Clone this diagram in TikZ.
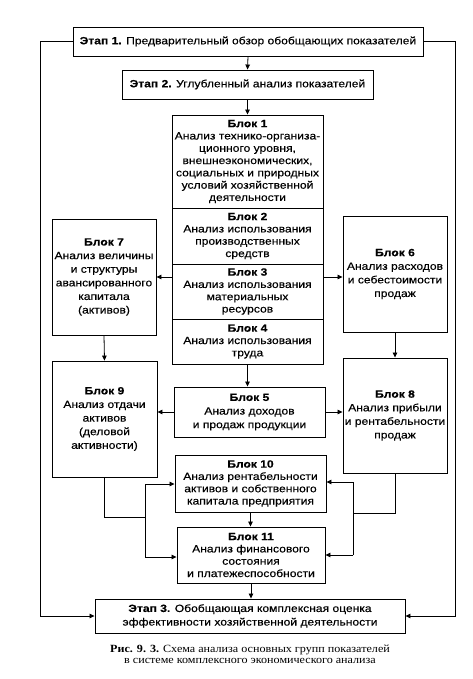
\documentclass[tikz,border=0pt]{standalone}
\usepackage{fontspec}
\usetikzlibrary{arrows.meta,calc}
\newfontfamily\boxfont[FakeStretch=1.15,FakeBold=0.3]{Liberation Sans}
\newfontfamily\capfont[FakeStretch=1.1]{Liberation Serif}
\tikzset{
  box/.style={draw, line width=0.9pt, align=center, inner sep=1pt,
    font=\boxfont\fontsize{10.5}{12.3}\selectfont},
  sidebox/.style={box, font=\boxfont\fontsize{10.5}{13.6}\selectfont},
  arr/.style={-{Triangle[length=5pt,width=4.5pt]}, line width=0.8pt},
  ln/.style={line width=0.8pt}
}
\begin{document}
\begin{tikzpicture}[x=1pt,y=-1pt]
\fill[white] (0,0) rectangle (472,679);
\useasboundingbox (0,0) rectangle (472,679);

\node[box, minimum width=350, minimum height=29] (e1) at (248,41.5)
  {\textbf{Этап 1.} Предварительный обзор обобщающих показателей};
\node[box, minimum width=251, minimum height=29] (e2) at (247.5,84.5)
  {\textbf{Этап 2.} Углубленный анализ показателей};

\node[box, minimum width=151, minimum height=93] (b1) at (247.5,161.5)
  {\textbf{Блок 1}\\Анализ технико-организа-\\ционного уровня,\\внешнеэкономических,\\социальных и природных\\условий хозяйственной\\деятельности};
\node[box, minimum width=151, minimum height=56] (b2) at (247.5,236)
  {\textbf{Блок 2}\\Анализ использования\\производственных\\средств};
\node[box, minimum width=151, minimum height=55] (b3) at (247.5,291.5)
  {\textbf{Блок 3}\\Анализ использования\\материальных\\ресурсов};
\node[box, minimum width=151, minimum height=45] (b4) at (247.5,341.5)
  {\textbf{Блок 4}\\Анализ использования\\труда};
\node[sidebox, minimum width=151, minimum height=50] (b5) at (249.5,412)
  {\textbf{Блок 5}\\Анализ доходов\\и продаж продукции};

\node[sidebox, minimum width=104, minimum height=116] (b7) at (104,277)
  {\textbf{Блок 7}\\Анализ величины\\и структуры\\авансированного\\капитала\\(активов)};
\node[sidebox, minimum width=104, minimum height=116] (b6) at (395,274)
  {\textbf{Блок 6}\\Анализ расходов\\и себестоимости\\продаж};
\node[sidebox, minimum width=105, minimum height=116] (b9) at (104.5,419)
  {\textbf{Блок 9}\\Анализ отдачи\\активов\\(деловой\\активности)};
\node[sidebox, minimum width=104, minimum height=115] (b8) at (395,415.5)
  {\textbf{Блок 8}\\Анализ прибыли\\и рентабельности\\продаж};

\node[box, minimum width=151, minimum height=57] (b10) at (250.5,483.5)
  {\textbf{Блок 10}\\Анализ рентабельности\\активов и собственного\\капитала предприятия};
\node[box, minimum width=148, minimum height=56] (b11) at (251,555)
  {\textbf{Блок 11}\\Анализ финансового\\состояния\\и платежеспособности};

\node[sidebox, minimum width=310, minimum height=34] (e3) at (250,616)
  {\textbf{Этап 3.} Обобщающая комплексная оценка\\эффективности хозяйственной деятельности};

\node[font=\capfont\fontsize{11}{11.5}\selectfont, align=center, inner sep=0] (cap) at (250,654.5)
  {\textbf{Рис. 9. 3.} Схема анализа основных групп показателей\\в системе комплексного экономического анализа};

% main vertical flow
\draw[arr] (e1.south) -- (e2.north);
\draw[arr] (e2.south) -- (b1.north);
\draw[arr] (b4.south) -- (b4.south |- b5.north);
\draw[arr] (b10.south) -- (b10.south |- b11.north);
\draw[arr] (b11.south) -- (b11.south |- e3.north);

% side flows
\draw[arr] (b3.west |- b7.east) -- (b7.east);
\draw[arr] (b3.east |- 0,277) -- (b6.west |- 0,277);
\draw[arr] (b7.south) -- (b9.north);
\draw[arr] (b6.south) -- (b8.north);
\draw[arr] (b5.west) -- (b5.west -| b9.east);
\draw[arr] (b5.east) -- (b5.east -| b8.west);

% left feed into blocks 10 and 11
\coordinate (lt) at (145,484);
\coordinate (lb) at (145,557);
\draw[ln] (b9.south) |- (145,517);
\draw[arr] (lb) -- (lt) -- (lt -| b10.west);
\draw[arr] (lb) -- (lb -| b11.west);

% right feed into blocks 10 and 11
\coordinate (rt) at (353,482);
\coordinate (rb) at (353,555);
\draw[ln] (b8.south) |- (353,513);
\draw[arr] (rb) -- (rt) -- (rt -| b10.east);
\draw[arr] (rb) -- (rb -| b11.east);

% outer loops
\coordinate (ll) at (40,616);
\coordinate (rr) at (455,616);
\draw[arr] (e1.west) -| (ll) -- (e3.west);
\draw[arr] (e1.east) -| (rr) -- (e3.east);
\end{tikzpicture}
\end{document}
